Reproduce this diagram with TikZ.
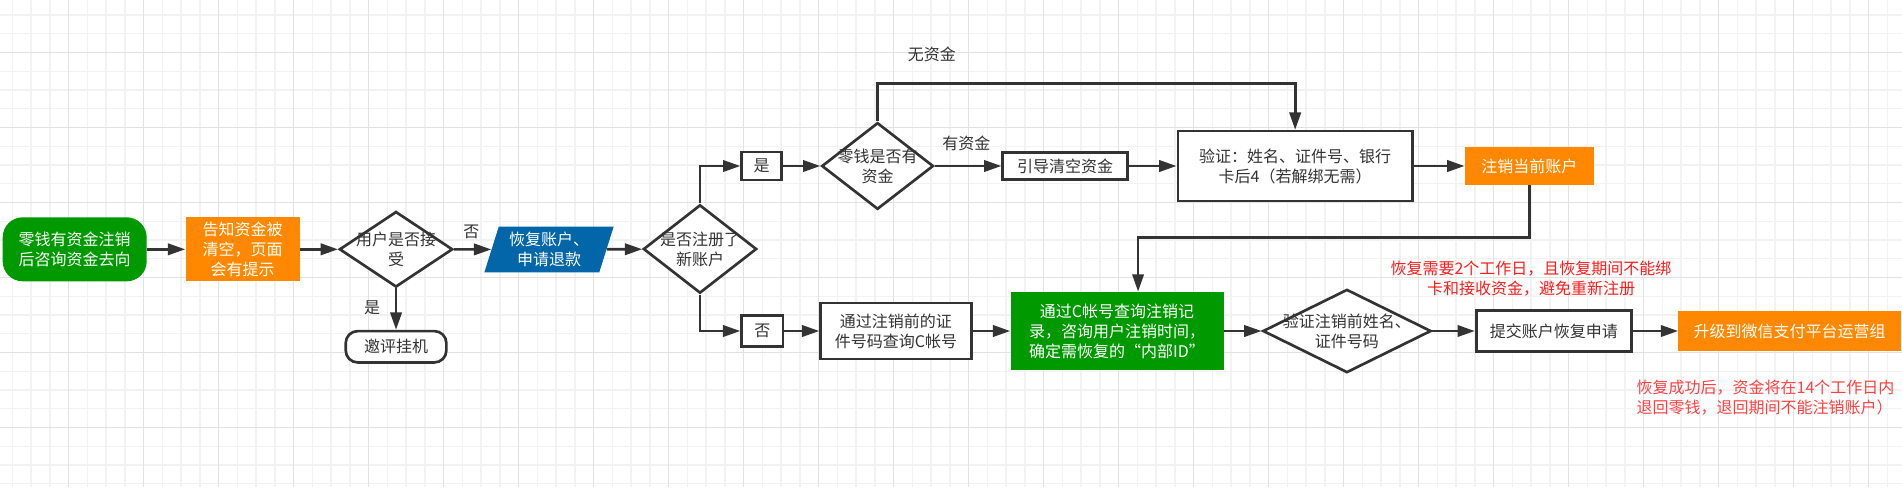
\documentclass[tikz,border=0pt]{standalone}
\usepackage{fontspec}
\setmainfont{Noto Sans CJK SC}
\usetikzlibrary{positioning,calc,shapes.geometric,arrows.meta}
\definecolor{flowgreen}{RGB}{0,153,0}
\definecolor{floworange}{RGB}{255,136,0}
\definecolor{flowblue}{RGB}{2,102,168}
\definecolor{flowline}{RGB}{51,51,51}
\definecolor{flowtext}{RGB}{51,51,51}
\definecolor{noteone}{RGB}{255,28,28}
\definecolor{notetwo}{RGB}{255,64,64}
\definecolor{gridminor}{RGB}{242,242,242}
\definecolor{gridmajor}{RGB}{226,226,226}

\begin{document}
\begin{tikzpicture}[x=0.75pt, y=-0.75pt,
    every node/.style={font=\fontsize{12pt}{15pt}\selectfont, text=flowtext, align=center},
    box/.style={rectangle, draw=flowline, line width=2pt, fill=white, inner sep=1pt},
    fillbox/.style={rectangle, inner sep=1pt, text=white},
    decide/.style={diamond, draw=flowline, line width=2pt, fill=white, inner sep=0pt},
    flow/.style={draw=flowline, line width=2pt, -{Triangle[length=13pt,width=8.5pt]}}
  ]
    \useasboundingbox (0,0) rectangle (1902,487);
    \fill[white] (0,0) rectangle (1902,487);
    \foreach \i in {0,...,102}
      \draw[gridminor, line width=1.1pt] ({-6.45+18.75*\i},0) -- ({-6.45+18.75*\i},487);
    \foreach \j in {0,...,26}
      \draw[gridminor, line width=1.1pt] (0,{-3.75+18.75*\j}) -- (1902,{-3.75+18.75*\j});
    \foreach \i in {0,...,24}
      \draw[gridmajor, line width=1.1pt] ({68.3+75*\i},0) -- ({68.3+75*\i},487);
    \foreach \j in {0,...,5}
      \draw[gridmajor, line width=1.1pt] (0,{52.3+75*\j}) -- (1902,{52.3+75*\j});

    \node[fillbox, fill=flowgreen, rounded corners=15pt, minimum width=108pt, minimum height=48pt] (s) at (74.7,249.3) {零钱有资金注销\\后咨询资金去向};
    \node[fillbox, fill=floworange, minimum width=85.7pt, minimum height=47.8pt, right=28.7pt of s] (t) {告知资金被\\清空，页面\\会有提示};
    \node[decide, minimum width=85pt, minimum height=56.7pt, right=28.5pt of t] (d1) {};
    \node (td1) at (d1) {用户是否接\\受};
    \node[box, rounded corners=9pt, minimum width=75.5pt, minimum height=23.5pt, below=31pt of d1] (e) {邀评挂机};
    \node[trapezium, trapezium left angle=72.5, trapezium right angle=107.5, fill=flowblue, text=white, inner sep=1pt, minimum width=92.5pt, minimum height=34.2pt] (p) at (549,249.5) {恢复账户、\\申请退款};
    \node[decide, minimum width=85pt, minimum height=66.3pt] (d2) at (700,249) {};
    \node (td2) at (d2) {是否注册了\\新账户};

    \node[box, minimum width=30pt, minimum height=21pt] (y) at (761.7,166) {是};
    \node[decide, minimum width=83.8pt, minimum height=65pt, right=28pt of y] (d3) {};
    \node (td3) at (d3) {零钱是否有\\资金};
    \node[box, minimum width=93.5pt, minimum height=20.25pt, right=50pt of d3] (c) {引导清空资金};
    \node[box, minimum width=176pt, minimum height=52.3pt, right=35.8pt of c] (v) {验证：姓名、证件号、银行\\卡后4（若解绑无需）};
    \node[fillbox, fill=floworange, minimum width=96.75pt, minimum height=28.3pt, right=38pt of v] (k) {注销当前账户};

    \node[box, minimum width=31pt, minimum height=23.5pt] (n) at (762.3,331) {否};
    \node[box, minimum width=113pt, minimum height=42.2pt, right=26.25pt of n] (q) {通过注销前的证\\件号码查询C帐号};
    \node[fillbox, fill=flowgreen, minimum width=159.75pt, minimum height=58.7pt, right=28.2pt of q] (g) {通过C帐号查询注销记\\录，咨询用户注销时间，\\确定需恢复的“内部ID”};
    \node[decide, minimum width=126.2pt, minimum height=62.5pt, right=28.3pt of g] (d4) {};
    \node (td4) at (d4) {验证注销前姓名、\\证件号码};
    \node[box, minimum width=116.7pt, minimum height=31pt, right=31.8pt of d4] (u) {提交账户恢复申请};
    \node[fillbox, fill=floworange, minimum width=167pt, minimum height=29.5pt, right=33.75pt of u] (w) {升级到微信支付平台运营组};

    \node (lno1) at ($(d1.east)+(17.3,-17.8)$) {否};
    \node (lyes1) at ($(d1.south)+(-24,19.4)$) {是};
    \node (lfund) at ($(d3.east)+(31.6,-22.7)$) {有资金};
    \node (lnofund) at ($(d3.north)+(54.2,-66.7)$) {无资金};

    \node[text=noteone] (r1) at (1531,278.3) {恢复需要2个工作日，且恢复期间不能绑\\卡和接收资金，避免重新注册};
    \node[text=notetwo, align=left, anchor=west] (r2) at (1632,397.2) {恢复成功后，资金将在14个工作日内\\退回零钱，退回期间不能注销账户）};

    \draw[flow] (s) -- (t);
    \draw[flow] (t) -- (d1);
    \draw[flow] (d1) -- (p);
    \draw[flow] (d1) -- (e);
    \draw[flow] (p) -- (d2);
    \draw[flow] (d2.north) |- (y);
    \draw[flow] (d2.south) |- (n);
    \draw[flow] (y) -- (d3);
    \draw[flow] (d3) -- (c);
    \coordinate (topbend) at ($(d3.north)+(0,-37.7)$);
    \draw[flow] (d3.north) -- (topbend) -| (v);
    \draw[flow] (c) -- (v);
    \draw[flow] (v) -- (k);
    \coordinate (backbend) at ($(k.south)+(-391.2,52.3)$);
    \draw[flow] (k.south) |- (backbend) -- (backbend |- g.north);
    \draw[flow] (n) -- (q);
    \draw[flow] (q) -- (g);
    \draw[flow] (g) -- (d4);
    \draw[flow] (d4) -- (u);
    \draw[flow] (u) -- (w);
\end{tikzpicture}
\end{document}
